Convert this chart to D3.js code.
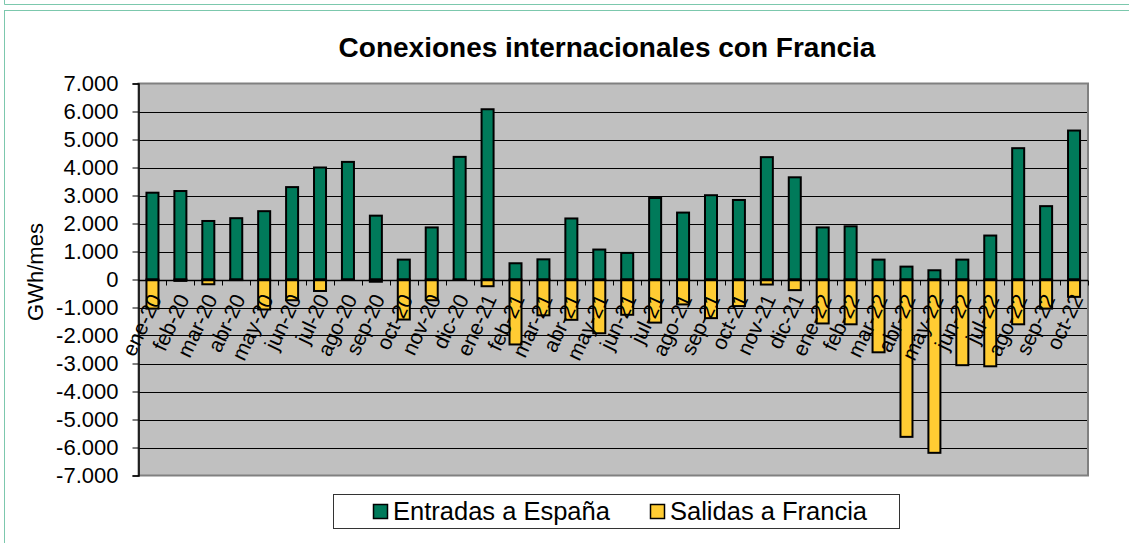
<!DOCTYPE html>
<html>
<head>
<meta charset="utf-8">
<script src="https://cdn.jsdelivr.net/npm/d3@7"></script>
<style>
  body { margin: 0; background: #fff; }
  text { font-family: "Liberation Sans", Arial, sans-serif; }
</style>
</head>
<body>
<div id="chart"></div>
<script>
// Monthly categories
const months = [
    "ene-20", "feb-20", "mar-20", "abr-20", "may-20", "jun-20", "jul-20", "ago-20", "sep-20", "oct-20", "nov-20", "dic-20",
    "ene-21", "feb-21", "mar-21", "abr-21", "may-21", "jun-21", "jul-21", "ago-21", "sep-21", "oct-21", "nov-21", "dic-21",
    "ene-22", "feb-22", "mar-22", "abr-22", "may-22", "jun-22", "jul-22", "ago-22", "sep-22", "oct-22"
];

// GWh/mes imported into Spain
const entradas = [
    3100, 3160, 2090, 2190, 2440, 3300, 4000, 4200, 2280, 710, 1860, 4380,
    6080, 580, 720, 2180, 1070, 950, 2910, 2390, 3010, 2840, 4370, 3650,
    1860, 1900, 710, 460, 330, 710, 1570, 4690, 2620, 5320
];

// GWh/mes exported to France (negative)
const salidas = [
    -1040, -50, -170, -20, -1070, -740, -410, -10, -80, -1430, -740, -10,
    -240, -2320, -1280, -1440, -1920, -1260, -1540, -890, -1380, -950, -180, -380,
    -1570, -1600, -2600, -5620, -6190, -3060, -3100, -1600, -1040, -620
];

const yTicks = d3.range(-7000, 7001, 1000);
const seriesNames = ["Entradas a España", "Salidas a Francia"];
const seriesColors = ["#007a5a", "#ffcc33"];

const width = 1129, height = 543;
const plot = { left: 138.5, right: 1088, top: 83.5, bottom: 475.5 };

const svg = d3.select("#chart")
    .append("svg")
    .attr("width", width)
    .attr("height", height);

// Outer frames (teal)
svg.append("line")
    .attr("x1", 4.5).attr("x2", width).attr("y1", 4.5).attr("y2", 4.5)
    .attr("stroke", "#7cc8ad");
svg.append("line")
    .attr("x1", 4.5).attr("x2", 4.5).attr("y1", 0).attr("y2", 4.5)
    .attr("stroke", "#7cc8ad");
svg.append("rect")
    .attr("x", 4.5).attr("y", 10.5)
    .attr("width", width + 10).attr("height", height + 10)
    .attr("fill", "none")
    .attr("stroke", "#7cc8ad");

// Title
svg.append("text")
    .attr("x", 607)
    .attr("y", 57)
    .attr("text-anchor", "middle")
    .style("font-size", "28px")
    .style("font-weight", "bold")
    .text("Conexiones internacionales con Francia");

// Scales
const x = d3.scaleBand()
    .domain(months)
    .range([plot.left, plot.right]);

const y = d3.scaleLinear()
    .domain([-7000, 7000])
    .range([plot.bottom, plot.top]);

const locale = d3.formatLocale({ decimal: ",", thousands: ".", grouping: [3], currency: ["", ""], minus: "-" });
const fmt = locale.format(",");

// Plot background
svg.append("rect")
    .attr("x", plot.left)
    .attr("y", plot.top)
    .attr("width", plot.right - plot.left)
    .attr("height", plot.bottom - plot.top)
    .attr("fill", "#c0c0c0");

// Gridlines
svg.append("g")
    .selectAll("line")
    .data(yTicks.filter(d => d > -7000 && d < 7000))
    .enter()
    .append("line")
    .attr("x1", plot.left)
    .attr("x2", plot.right)
    .attr("y1", d => Math.round(y(d)) + 0.5)
    .attr("y2", d => Math.round(y(d)) + 0.5)
    .attr("stroke", "#000")
    .attr("stroke-width", 1);

// Plot border
svg.append("rect")
    .attr("x", plot.left)
    .attr("y", plot.top)
    .attr("width", plot.right - plot.left)
    .attr("height", plot.bottom - plot.top)
    .attr("fill", "none")
    .attr("stroke", "#808080")
    .attr("stroke-width", 2);

// Bars
const barW = x.bandwidth() * 0.43;
const bars = svg.append("g");

bars.selectAll("rect.entradas")
    .data(months)
    .enter()
    .append("rect")
    .attr("class", "entradas")
    .attr("x", d => x(d) + (x.bandwidth() - barW) / 2)
    .attr("y", (d, i) => y(entradas[i]))
    .attr("width", barW)
    .attr("height", (d, i) => y(0) - y(entradas[i]))
    .attr("fill", seriesColors[0])
    .attr("stroke", "#000")
    .attr("stroke-width", 2);

bars.selectAll("rect.salidas")
    .data(months)
    .enter()
    .append("rect")
    .attr("class", "salidas")
    .attr("x", d => x(d) + (x.bandwidth() - barW) / 2)
    .attr("y", y(0))
    .attr("width", barW)
    .attr("height", (d, i) => y(salidas[i]) - y(0))
    .attr("fill", seriesColors[1])
    .attr("stroke", "#000")
    .attr("stroke-width", 2);

// Y axis
const yAxis = svg.append("g")
    .attr("transform", `translate(${plot.left},0)`)
    .call(d3.axisLeft(y).tickValues(yTicks).tickFormat(fmt).tickSize(6).tickPadding(14));
yAxis.select(".domain").attr("stroke", "#000").attr("stroke-width", 1.5);
yAxis.selectAll("text")
    .attr("fill", "#000")
    .style("font-size", "22px");

// X axis on the zero line, ticks at band boundaries
const x0 = Math.round(y(0)) + 0.5;
svg.append("line")
    .attr("x1", plot.left).attr("x2", plot.right)
    .attr("y1", x0).attr("y2", x0)
    .attr("stroke", "#000").attr("stroke-width", 1.5);

svg.append("g")
    .selectAll("line")
    .data(months.slice(1).concat(["end"]))
    .enter()
    .append("line")
    .attr("x1", (d, i) => Math.round(plot.left + x.step() * (i + 1)) + 0.5)
    .attr("x2", (d, i) => Math.round(plot.left + x.step() * (i + 1)) + 0.5)
    .attr("y1", x0)
    .attr("y2", x0 + 5)
    .attr("stroke", "#000");

svg.append("g")
    .selectAll("text")
    .data(months)
    .enter()
    .append("text")
    .attr("transform", d => `translate(${x(d) + x.bandwidth() / 2 + 3},${x0 + 15}) rotate(-65)`)
    .attr("text-anchor", "end")
    .attr("dy", "0.35em")
    .style("font-size", "21px")
    .text(d => d);

// Y axis title
svg.append("text")
    .attr("transform", `translate(43,272) rotate(-90)`)
    .attr("text-anchor", "middle")
    .style("font-size", "22px")
    .text("GWh/mes");

// Legend
const legend = svg.append("g");
legend.append("rect")
    .attr("x", 333.5).attr("y", 494.5)
    .attr("width", 566).attr("height", 34)
    .attr("fill", "#fff")
    .attr("stroke", "#333");

const legendX = [373, 650];
seriesNames.forEach((name, i) => {
    legend.append("rect")
        .attr("x", legendX[i] + 0.5).attr("y", 504.5)
        .attr("width", 14).attr("height", 14)
        .attr("fill", seriesColors[i])
        .attr("stroke", "#000")
        .attr("stroke-width", 1.5);
    legend.append("text")
        .attr("x", legendX[i] + 20)
        .attr("y", 520)
        .style("font-size", "25.5px")
        .text(name);
});
</script>
</body>
</html>
